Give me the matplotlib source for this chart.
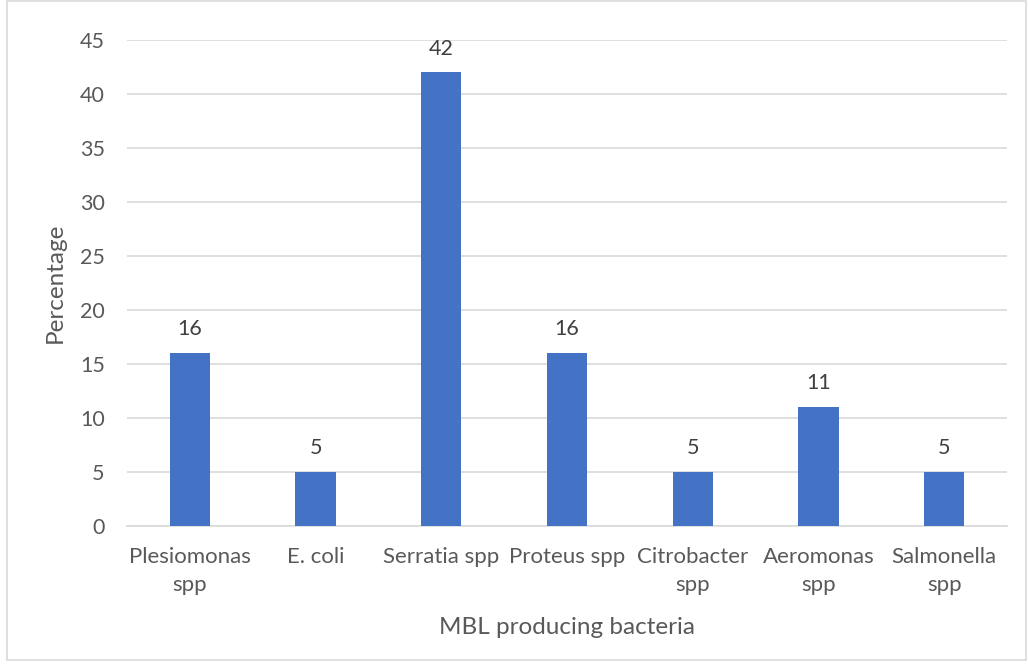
import matplotlib
matplotlib.use("Agg")
import matplotlib.pyplot as plt
from matplotlib.patches import Rectangle

categories = ["Plesiomonas\nspp", "E. coli", "Serratia spp", "Proteus spp",
              "Citrobacter\nspp", "Aeromonas\nspp", "Salmonella\nspp"]
values = [16, 5, 42, 16, 5, 11, 5]
yticks = [0, 5, 10, 15, 20, 25, 30, 35, 40, 45]

plt.rcParams['font.family'] = ['Lato', 'DejaVu Sans']
text_color = '#595959'

fig = plt.figure(figsize=(10.28, 6.66), dpi=100)
ax = fig.add_axes([127/1028, 1 - 526/666, 880/1028, 486/666])

x = list(range(len(categories)))
bars = ax.bar(x, values, width=0.32, color='#4472C4', zorder=3)
for xi, v in zip(x, values):
    ax.annotate(str(v), (xi, v), xytext=(0, 10), textcoords='offset points',
                ha='center', va='bottom', fontsize=15.5, color='#404040')

ax.set_xlim(-0.5, len(categories) - 0.5)
ax.set_ylim(0, 45)
ax.set_yticks(yticks)
ax.set_yticklabels([str(t) for t in yticks], fontsize=15.5, color=text_color)
ax.set_xticks(x)
ax.set_xticklabels(categories, fontsize=16, color=text_color, linespacing=1.5)
ax.tick_params(axis='both', length=0)
ax.tick_params(axis='y', pad=16)
ax.tick_params(axis='x', pad=15)
ax.grid(axis='y', color='#D9D9D9', linewidth=1.2, zorder=0)
for s in ['top', 'right', 'left']:
    ax.spines[s].set_visible(False)
ax.spines['bottom'].set_color('#D9D9D9')
ax.spines['bottom'].set_linewidth(1.2)

ax.set_xlabel('MBL producing bacteria', fontsize=17.5, color=text_color, labelpad=16)
ax.set_ylabel('Percentage', fontsize=17.5, color=text_color, labelpad=10)

fig.patches.append(Rectangle((7/1028, 6/666), 1 - 7/1028 - 2/1028, 1 - 6/666 - 1/666,
                             transform=fig.transFigure, fill=False,
                             edgecolor='#D9D9D9', linewidth=1.2))

fig.savefig('out.png', dpi=100)
